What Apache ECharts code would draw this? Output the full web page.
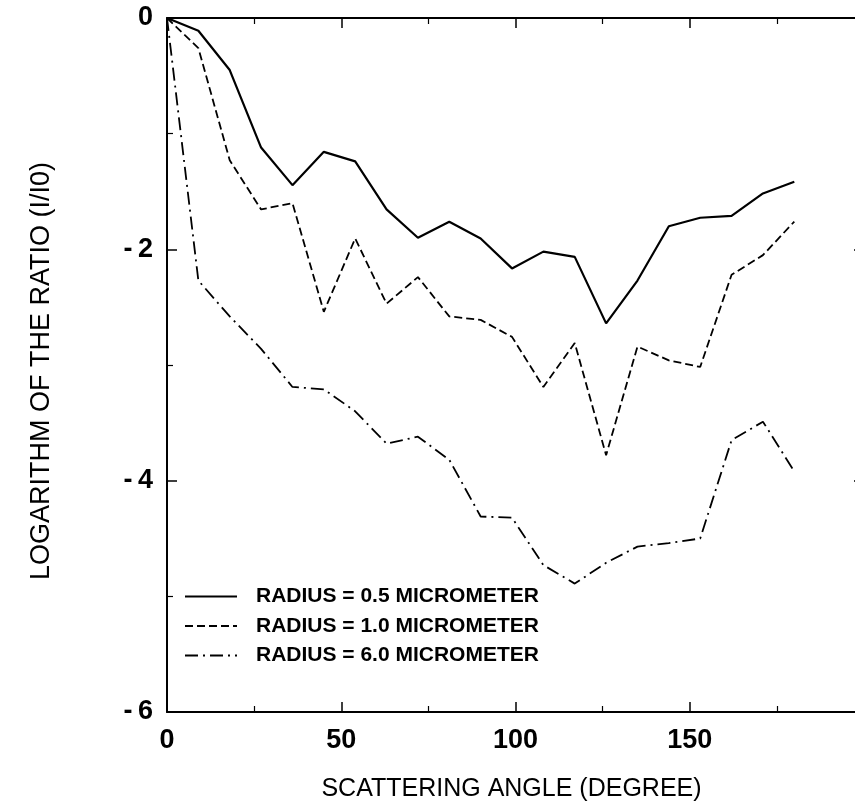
<!DOCTYPE html>
<html>
<head>
<meta charset="utf-8">
<script src="https://cdn.jsdelivr.net/npm/echarts@6/dist/echarts.min.js"></script>
<style>html,body{margin:0;padding:0;background:#fff;}#c{width:855px;height:811px;}</style>
</head>
<body>
<div id="c"></div>
<script>
const angles = [0, 9, 18, 27, 36, 45, 54, 63, 72, 81, 90, 99, 108, 117, 126, 135, 144, 153, 162, 171, 180];
const r05 = [0, -0.11, -0.45, -1.12, -1.445, -1.157, -1.24, -1.655, -1.90, -1.762, -1.906, -2.165, -2.02, -2.065, -2.64, -2.27, -1.80, -1.727, -1.71, -1.517, -1.416];
const r10 = [0, -0.26, -1.23, -1.655, -1.60, -2.54, -1.906, -2.47, -2.24, -2.58, -2.61, -2.757, -3.19, -2.81, -3.78, -2.84, -2.96, -3.017, -2.22, -2.05, -1.76];
const r60 = [0, -2.27, -2.58, -2.86, -3.19, -3.21, -3.40, -3.68, -3.62, -3.82, -4.31, -4.32, -4.73, -4.89, -4.71, -4.57, -4.54, -4.50, -3.65, -3.49, -3.92];
const seriesNames = ['RADIUS = 0.5 MICROMETER', 'RADIUS = 1.0 MICROMETER', 'RADIUS = 6.0 MICROMETER'];
const xTitle = 'SCATTERING ANGLE (DEGREE)';
const yTitle = 'LOGARITHM OF THE RATIO (I/I0)';

const FONT = '"Liberation Sans", Arial, sans-serif';
const pair = a => angles.map((x, i) => [x, a[i]]);

const chart = echarts.init(document.getElementById('c'), null, {renderer: 'canvas'});
const axisLineStyle = {color: '#000', width: 2};
const baseX = {
  type: 'value', min: 0, max: 200, interval: 50,
  axisLine: {show: true, onZero: false, lineStyle: axisLineStyle},
  axisTick: {show: true, inside: true, length: 10, lineStyle: {color: '#000', width: 1.5}},
  minorTick: {show: true, splitNumber: 2, length: 6, lineStyle: {color: '#000', width: 1.2}},
  splitLine: {show: false}
};
const baseY = {
  type: 'value', min: -6, max: 0, interval: 2,
  axisLine: {show: true, onZero: false, lineStyle: axisLineStyle},
  axisTick: {show: true, inside: true, length: 10, lineStyle: {color: '#000', width: 1.5}},
  minorTick: {show: true, splitNumber: 2, length: 6, lineStyle: {color: '#000', width: 1.2}},
  splitLine: {show: false}
};
chart.setOption({
  backgroundColor: '#fff',
  animation: false,
  grid: {left: 167, top: 18, width: 697, height: 694, containLabel: false, outerBoundsMode: 'none'},
  legend: {
    orient: 'vertical', left: 184, top: 586, padding: 0, itemWidth: 52, itemHeight: 14, itemGap: 8.5,
    itemStyle: {opacity: 0},
    textStyle: {fontFamily: FONT, fontSize: 21, fontWeight: 'bold', color: '#000', padding: [0, 0, 0, 14]},
    data: seriesNames
  },
  xAxis: [
    Object.assign({}, baseX, {
      position: 'bottom', name: xTitle, nameLocation: 'middle', nameGap: 65,
      nameTextStyle: {fontFamily: FONT, fontSize: 25, color: '#000', padding: [0, 8, 0, 0]},
      axisLabel: {show: true, margin: 15, fontFamily: FONT, fontSize: 27, fontWeight: 'bold', color: '#000',
        formatter: v => v >= 200 ? '' : String(v)}
    }),
    Object.assign({}, baseX, {position: 'top', axisLabel: {show: false}})
  ],
  yAxis: [
    Object.assign({}, baseY, {
      position: 'left', name: yTitle, nameLocation: 'middle', nameGap: 112, nameRotate: 90,
      nameTextStyle: {fontFamily: FONT, fontSize: 27, color: '#000', padding: [0, 12, 0, 0]},
      axisLabel: {show: true, margin: 14, fontFamily: FONT, fontSize: 27, fontWeight: 'bold', color: '#000',
        formatter: v => v === 0 ? '0' : '-\u2009' + Math.abs(v)}
    }),
    Object.assign({}, baseY, {position: 'right', axisLabel: {show: false}})
  ],
  series: [
    {name: seriesNames[0], type: 'line', data: pair(r05), symbol: 'none', clip: false,
      lineStyle: {color: '#000', width: 2.2, type: 'solid'}, itemStyle: {color: '#000'}},
    {name: seriesNames[1], type: 'line', data: pair(r10), symbol: 'none', clip: false,
      lineStyle: {color: '#000', width: 1.8, type: [8, 4]}, itemStyle: {color: '#000'}},
    {name: seriesNames[2], type: 'line', data: pair(r60), symbol: 'none', clip: false,
      lineStyle: {color: '#000', width: 1.8, type: [13, 5, 2, 5]}, itemStyle: {color: '#000'}}
  ]
});
</script>
</body>
</html>
